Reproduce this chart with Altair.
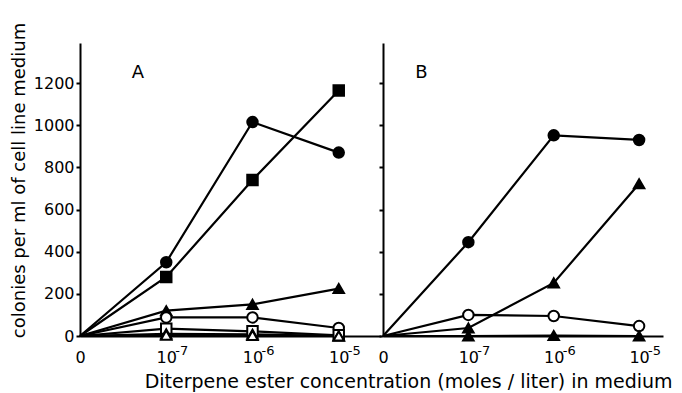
import altair as alt
import pandas as pd

# x categories (equally spaced positions 0..3): base text and exponent
x_index = [0, 1, 2, 3]
x_base = ["0", "10", "10", "10"]
x_exp = ["", "-7", "-6", "-5"]

# Panel A series
a_filled_circle = [0, 350, 1015, 870]
a_filled_square = [0, 280, 740, 1165]
a_filled_triangle = [0, 120, 150, 225]
a_open_circle = [0, 88, 88, 38]
a_open_square = [0, 35, 22, 3]
a_small_triangle = [0, 10, 8, 0]
a_open_triangle = [0, 4, 3, 0]

# Panel B series
b_filled_circle = [0, 445, 952, 930]
b_filled_triangle = [0, 38, 252, 722]
b_open_circle = [0, 100, 95, 47]
b_base_triangle = [0, 0, 2, 0]

y_ticks = [0, 200, 400, 600, 800, 1000, 1200]

series_a = [
    ("fc", "circle", "filled", a_filled_circle),
    ("fs", "square", "filled", a_filled_square),
    ("ft", "triangle", "filled", a_filled_triangle),
    ("oc", "circle", "open", a_open_circle),
    ("os", "square", "open", a_open_square),
    ("st", "triangle", "filled", a_small_triangle),
    ("ot", "triangle", "open", a_open_triangle),
]
series_b = [
    ("fc", "circle", "filled", b_filled_circle),
    ("ft", "triangle", "filled", b_filled_triangle),
    ("oc", "circle", "open", b_open_circle),
    ("bt", "triangle", "filled", b_base_triangle),
]


def frame(series):
    rows = []
    for name, shape, fill, vals in series:
        for xi, v in zip(x_index, vals):
            rows.append({"series": name, "shape": shape, "fill": fill, "xi": xi, "y": v})
    return pd.DataFrame(rows)


label_expr = "[" + ",".join("'%s'" % s for s in x_base) + "][datum.value]"
exp_df = pd.DataFrame({"xi": x_index, "e": x_exp, "y": [0] * len(x_index)})
FONT = "DejaVu Sans"


def panel(series, width, xmax, first, letter, letter_x):
    df = frame(series)
    xscale = alt.Scale(domain=[0, xmax], nice=False, zero=True)
    yscale = alt.Scale(domain=[0, 1390], nice=False)
    xaxis = alt.Axis(values=x_index, labelExpr=label_expr, ticks=False, grid=False,
                     title=None, labelFlush=False, labelFontSize=16, labelFont=FONT,
                     labelColor="black", labelPadding=13, domainColor="black",
                     domainWidth=2)
    if first:
        yaxis = alt.Axis(values=y_ticks, format="d", grid=False,
                         title="colonies per ml of cell line medium",
                         titleFont=FONT, titleFontSize=18, titleFontWeight="normal",
                         titleColor="black", titleY=137, titlePadding=5,
                         labelFont=FONT, labelFontSize=16, labelColor="black",
                         tickColor="black", tickSize=4, tickWidth=2, labelPadding=2,
                         domainColor="black", domainWidth=2)
    else:
        yaxis = alt.Axis(values=y_ticks, grid=False, title=None, labels=False,
                         tickColor="black", tickSize=4, tickWidth=2,
                         domainColor="black", domainWidth=2)
    base = alt.Chart(df)
    lines = base.mark_line(color="black", strokeWidth=2.2).encode(
        x=alt.X("xi:Q", scale=xscale, axis=xaxis),
        y=alt.Y("y:Q", scale=yscale, axis=yaxis),
        detail="series:N",
        order="xi:Q",
    )
    pts = base.transform_filter("datum.xi > 0").mark_point(
        stroke="black", strokeWidth=2, opacity=1, filled=False, size=110
    ).encode(
        x=alt.X("xi:Q", scale=xscale),
        y=alt.Y("y:Q", scale=yscale),
        shape=alt.Shape("shape:N", scale=alt.Scale(domain=["circle", "square", "triangle"],
                                                     range=["circle", "square", "triangle-up"]),
                        legend=None),
        fill=alt.Fill("fill:N", scale=alt.Scale(domain=["filled", "open"], range=["black", "white"]),
                      legend=None),
    )
    exps = alt.Chart(exp_df).mark_text(
        font=FONT, fontSize=13, color="black", align="left", baseline="alphabetic",
        dx=9, dy=19
    ).encode(x=alt.X("xi:Q", scale=xscale), y=alt.Y("y:Q", scale=yscale), text="e:N")
    lab = alt.Chart(pd.DataFrame({"t": [letter], "x": [letter_x], "y": [1250]})).mark_text(
        font=FONT, fontSize=18, color="black"
    ).encode(x=alt.X("x:Q", scale=xscale), y=alt.Y("y:Q", scale=yscale), text="t:N")
    return alt.layer(lines, pts, exps, lab).properties(width=width, height=293)


pa = panel(series_a, 301, 3.49, True, "A", 0.67)
pb = panel(series_b, 280, 3.28, False, "B", 0.45)

chart = alt.hconcat(pa, pb, spacing=2, bounds="flush").resolve_scale(
    x="independent", y="independent", shape="shared", fill="shared"
).properties(
    title=alt.TitleParams("Diterpene ester concentration (moles / liter) in medium",
                          orient="bottom", anchor="middle", font=FONT, fontSize=19,
                          fontWeight="normal", color="black", dx=72, offset=8),
    padding={"left": 2, "top": 14, "right": 0, "bottom": 0},
).configure_view(stroke=None)

chart.save("out.html", embed_options={"renderer": "svg", "actions": False})
